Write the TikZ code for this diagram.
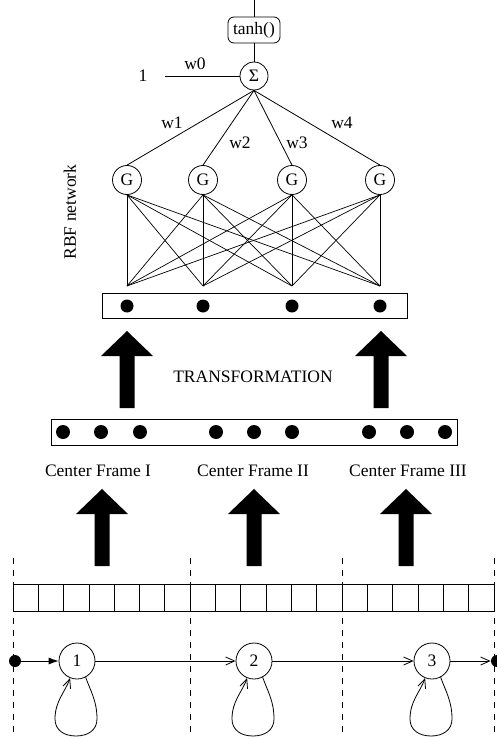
\documentclass[tikz,border=0pt]{standalone}
\usepackage{fontspec}
\setmainfont{Liberation Serif}
\usetikzlibrary{arrows.meta,calc}
\begin{document}
\begin{tikzpicture}[x=1pt,y=-1pt, line width=0.8pt,
  every node/.style={font=\fontsize{17.5}{20}\selectfont},
  neuron/.style={draw,circle,minimum size=29pt,inner sep=0pt},
  state/.style={draw,circle,minimum size=36pt,inner sep=0pt},
  blob/.style={fill,circle,minimum size=13pt,inner sep=0pt},
  blobb/.style={fill,circle,minimum size=14pt,inner sep=0pt},
  edot/.style={fill,circle,minimum size=12pt,inner sep=0pt},
  lbl/.style={inner sep=1pt},
  barbox/.style={draw,rectangle,inner sep=0pt},
  sep/.style={dash pattern=on 6pt off 6pt},
  bigarrow/.pic={\fill (0,0) -- (26,25) -- (7.5,25) -- (7.5,77) -- (-7.5,77) -- (-7.5,25) -- (-26,25) -- cycle;},
  trans/.style={-{Straight Barb[length=9pt,width=8pt]}},
  first/.style={-{Latex[length=10pt,width=7pt]}},
]
\useasboundingbox (0,0) rectangle (496,738);

% output part
\coordinate (top) at (254,0);
\node[draw,rounded corners=6pt,minimum width=52pt,minimum height=26pt,inner sep=2pt] (tanh) at (254,30) {tanh()};
\node[neuron,minimum size=28pt] (sig) at (254,76) {Σ};
\node[lbl] (one) at (143,76) {1};
\coordinate (w0s) at (165,76);
\node[lbl] (w0) at (195,64) {w0};
\draw (top) -- (tanh.north);
\draw (tanh.south) -- (sig.north);
\draw (w0s) -- (sig.west);

% RBF units
\node[neuron] (g1) at (127,180) {G};
\node[neuron] (g2) at (203,180) {G};
\node[neuron] (g3) at (292,180) {G};
\node[neuron] (g4) at (380,180) {G};
\foreach \i in {1,...,4} \draw (sig.south) -- (g\i.north);
\node[lbl] (w1) at (172,123) {w1};
\node[lbl] (w2) at (240,143) {w2};
\node[lbl] (w3) at (297,143) {w3};
\node[lbl] (w4) at (342,123) {w4};

\node[rotate=90] (rbf) at (70,212) {RBF network};

% fan-in points
\coordinate (i1) at (127,286);
\coordinate (i2) at (203,286);
\coordinate (i3) at (292,286);
\coordinate (i4) at (380,286);
\foreach \i in {1,...,4}
  \foreach \j in {1,...,4}
    \draw[line width=0.7pt] (g\i.south) -- (i\j);

% RBF input bar
\node[barbox,minimum width=305pt,minimum height=25pt] (rbfbox) at (254.5,305.5) {};
\node[blob] (d1) at (127,306) {};
\node[blob] (d2) at (203,306) {};
\node[blob] (d3) at (292,306) {};
\node[blob] (d4) at (380,306) {};

% transformation arrows
\pic at (127,331) {bigarrow};
\pic at (381,331) {bigarrow};
\node (transf) at (253,377) {TRANSFORMATION};

% concatenated frames bar
\node[barbox,minimum width=406pt,minimum height=26pt] (cfbox) at (254,432) {};
\foreach \x [count=\k] in {63,101,140,216,254,292,369,407,445}
  \node[blobb] (c\k) at (\x,432) {};

\node (cf1) at (98,471) {Center Frame I};
\node (cf2) at (253,471) {Center Frame II};
\node (cf3) at (408,471) {Center Frame III};

\pic at (102,489) {bigarrow};
\pic at (254,489) {bigarrow};
\pic at (406,489) {bigarrow};

% segment separators
\foreach \x/\n in {13/a,190/b,342/c,494/d} {
  \coordinate (sep\n t) at (\x,558);
  \coordinate (sep\n b) at (\x,738);
  \draw[sep] (sep\n t) -- (sep\n b);
}

% frame strip
\node[barbox,minimum width=481pt,minimum height=27pt,anchor=north west] (strip) at (13,584) {};
\foreach \k in {1,...,18}
  \draw ({13+\k*481/19},584) -- ++(0,27);

% HMM states
\node[edot] (sdot) at (15,661) {};
\node[state] (s1) at (77,661) {1};
\node[state] (s2) at (254,661) {2};
\node[state] (s3) at (432,661) {3};
\node[edot] (edotr) at (497,661) {};
\draw[first] (sdot) -- (s1);
\draw[trans] (s1) -- (s2);
\draw[trans] (s2) -- (s3);
\draw[trans] (s3) -- (edotr);
\foreach \s in {s1,s2,s3} {
  \coordinate (\s R) at ($(\s)+(20,58)$);
  \coordinate (\s B) at ($(\s)+(-1,75)$);
  \coordinate (\s L) at ($(\s)+(-22,58)$);
  \draw[trans] (\s.-62) .. controls ($(\s.-62)+(5,14)$) and ($(\s R)+(0,-18)$) .. (\s R)
     .. controls ($(\s R)+(0,11)$) and ($(\s B)+(12,0)$) .. (\s B)
     .. controls ($(\s B)+(-12,0)$) and ($(\s L)+(0,11)$) .. (\s L)
     .. controls ($(\s L)+(0,-18)$) and ($(\s.-112)+(-5,14)$) .. (\s.-112);
}
\end{tikzpicture}
\end{document}
